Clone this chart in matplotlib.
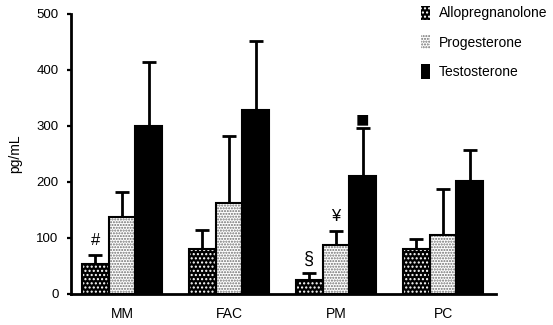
import numpy as np
import matplotlib
matplotlib.use('Agg')
import matplotlib.pyplot as plt
from matplotlib.patches import Patch

plt.rcParams['font.family'] = ['Liberation Sans', 'DejaVu Sans']

groups = ['MM', 'FAC', 'PM', 'PC']
series = ['Allopregnanolone', 'Progesterone', 'Testosterone']

allo = [53, 80, 25, 80]
allo_err = [17, 35, 13, 18]
prog = [137, 162, 88, 105]
prog_err = [46, 120, 24, 83]
testo = [300, 328, 210, 202]
testo_err = [115, 124, 87, 55]

# marks above bars: (group, series, text, y, size)
marks = [(0, 0, '#', 95, 12), (2, 0, '\u00a7', 62, 13), (2, 1, '\u00a5', 138, 12),
         (2, 2, '\u25a0', 310, 16)]

styles = [
    dict(face='black', hatch_col='white', hatch='....'),
    dict(face='white', hatch_col='#6e6e6e', hatch='......'),
    dict(face='black', hatch_col='black', hatch=None),
]

fig = plt.figure(figsize=(5.53, 3.25), dpi=100)
ax = fig.add_axes([71 / 553, 31 / 325, 425 / 553, 280 / 325])

x = np.arange(len(groups))
w = 0.25
vals = [allo, prog, testo]
errs = [allo_err, prog_err, testo_err]

for i, (v, e, st) in enumerate(zip(vals, errs, styles)):
    pos = x + (i - 1) * w
    ax.errorbar(pos, v, yerr=[np.zeros(len(v)), e], fmt='none', ecolor='black',
                elinewidth=2, capsize=5, capthick=2, zorder=1)
    ax.bar(pos, v, w, color=st['face'], edgecolor=st['hatch_col'], hatch=st['hatch'],
           linewidth=0, zorder=2)
    ax.bar(pos, v, w, fill=False, edgecolor='black', linewidth=1.5, zorder=3)

for g, s, txt, y, fs in marks:
    ax.text(x[g] + (s - 1) * w, y, txt, ha='center', va='center', fontsize=fs)

ax.set_xlim(-0.477, 3.495)
ax.set_ylim(0, 500)
ax.set_yticks([0, 100, 200, 300, 400, 500])
ax.set_xticks(x)
ax.set_xticklabels(groups, fontsize=10)
ax.tick_params(axis='x', length=0, pad=9)
ax.tick_params(axis='y', labelsize=9.5, length=3, width=1.6, pad=6)
ax.spines['top'].set_visible(False)
ax.spines['right'].set_visible(False)
ax.spines['left'].set_linewidth(2)
ax.spines['bottom'].set_linewidth(2)
ax.set_ylabel('pg/mL', fontsize=10, labelpad=10)

handles = [Patch(facecolor=st['face'], edgecolor=st['hatch_col'], hatch=st['hatch'], linewidth=0)
           for st in styles]
fig.legend(handles, series, loc='upper left', bbox_to_anchor=(415 / 553, 1.0),
           frameon=False, fontsize=10, handlelength=0.7, handleheight=1.2,
           labelspacing=1.05, handletextpad=0.6, borderaxespad=0)

fig.savefig('out.png', dpi=100)
